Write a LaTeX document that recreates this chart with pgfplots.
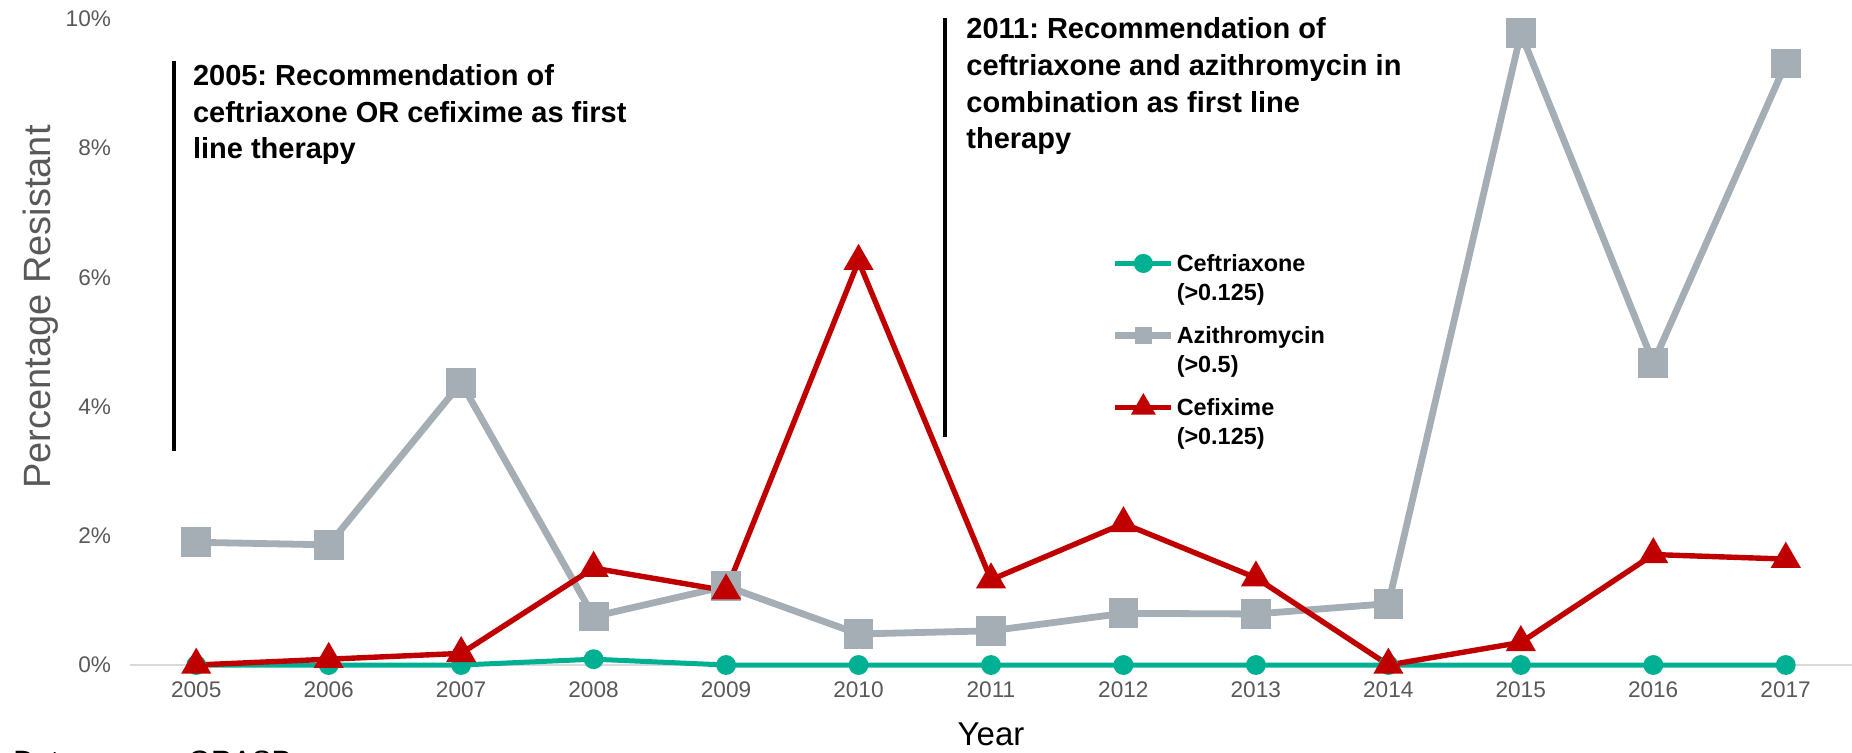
\documentclass[border=0pt]{standalone}
\usepackage{fontspec}
\setmainfont{Liberation Sans}
\usepackage{pgfplots}
\pgfplotsset{compat=1.18}

\definecolor{cteal}{RGB}{0,176,146}
\definecolor{cgray}{RGB}{165,174,180}
\definecolor{cred}{RGB}{192,0,0}
\definecolor{tickgray}{RGB}{89,89,89}
\definecolor{zeroline}{RGB}{217,217,217}

\begin{document}
\frenchspacing
\begin{tikzpicture}
\useasboundingbox (0,0) rectangle (926pt,376pt);

\begin{axis}[
  at={(65pt,43.5pt)}, anchor=south west,
  scale only axis, width=861pt, height=323pt,
  xmin=2004.5, xmax=2017.5, ymin=0, ymax=10,
  clip=false,
  axis lines*=left,
  axis line style={draw=none},
  major tick length=0pt,
  xtick={2005,...,2017},
  ytick={0,2,...,10},
  /pgf/number format/assume math mode=true,
  ticklabel style={font=\fontsize{11.3}{13}\selectfont, text=tickgray},
  xticklabel style={/pgf/number format/1000 sep={}, yshift=-5pt},
  yticklabel={\pgfmathprintnumber{\tick}\%},
  yticklabel style={xshift=-6pt},
  legend cell align=left,
  legend style={at={(0.5700,0.6464)}, anchor=north west, draw=none, fill=none,
    inner sep=0pt, row sep=20.4pt, column sep=1pt,
    nodes={inner sep=0pt, text height=12pt, text depth=3.6pt,
      font=\bfseries\fontsize{11.7}{14.5}\selectfont}},
  legend image code/.code={\draw[mark repeat=2,mark phase=2,#1]
    plot coordinates {(0pt,0pt) (14pt,0pt) (28pt,0pt)};},
]
% zero line
\draw[draw=zeroline, line width=1pt] (axis cs:2004.5,0) -- (axis cs:2017.5,0);

% Ceftriaxone (>0.125)
\addplot[cteal, line width=2.5pt, mark=*, mark size=3.7pt,
  legend image post style={mark size=3.5pt}] coordinates {
  (2005,0) (2006,0) (2007,0) (2008,0.09) (2009,0) (2010,0) (2011,0)
  (2012,0) (2013,0) (2014,0) (2015,0) (2016,0) (2017,0)};
\addlegendentry{\vtop{\hbox{Ceftriaxone}\hbox{(>0.125)}}}

% Azithromycin (>0.5)
\addplot[cgray, line width=3.4pt, mark=square*, mark size=5.75pt,
  legend image post style={mark size=2.6pt}] coordinates {
  (2005,1.90) (2006,1.86) (2007,4.37) (2008,0.75) (2009,1.22) (2010,0.48)
  (2011,0.53) (2012,0.80) (2013,0.79) (2014,0.95) (2015,9.78) (2016,4.68)
  (2017,9.31)};
\addlegendentry{\vtop{\hbox{Azithromycin}\hbox{(>0.5)}}}

% Cefixime (>0.125)
\addplot[cred, line width=2.7pt, mark=triangle*, mark size=6pt,
  legend image post style={mark size=4.5pt}] coordinates {
  (2005,0) (2006,0.09) (2007,0.18) (2008,1.50) (2009,1.15) (2010,6.25)
  (2011,1.32) (2012,2.19) (2013,1.35) (2014,0) (2015,0.35) (2016,1.71)
  (2017,1.64)};
\addlegendentry{\vtop{\hbox{Cefixime}\hbox{(>0.125)}}}

% guideline change markers
\draw[black, line width=1.75pt] (axis cs:2004.834,3.31) -- (axis cs:2004.834,9.35);
\draw[black, line width=1.75pt] (axis cs:2010.653,3.53) -- (axis cs:2010.653,10.02);
\end{axis}

% guideline notes
\begin{scope}[every node/.style={anchor=base west, inner sep=0pt,
    font=\bfseries\fontsize{14.5}{18}\selectfont}]
  \node at (96.3pt,333.5pt) {2005: Recommendation of};
  \node at (96.3pt,315pt) {ceftriaxone OR cefixime as first};
  \node at (96.3pt,297pt) {line therapy};
  \node at (483pt,356.5pt) {2011: Recommendation of};
  \node at (483pt,338pt) {ceftriaxone and azithromycin in};
  \node at (483pt,320pt) {combination as first line};
  \node at (483pt,302pt) {therapy};
\end{scope}

% axis titles
\node[rotate=90, text=tickgray, inner sep=0pt, font=\fontsize{19}{22}\selectfont]
  at (20.5pt,222.5pt) {Percentage Resistant};
\node[anchor=base, inner sep=0pt, font=\fontsize{16.5}{19}\selectfont]
  at (495.5pt,3.5pt) {Year};
\node[anchor=base west, inner sep=0pt, font=\fontsize{14.7}{17}\selectfont]
  at (6.5pt,-9.5pt) {Data source: GRASP};
\end{tikzpicture}
\end{document}
